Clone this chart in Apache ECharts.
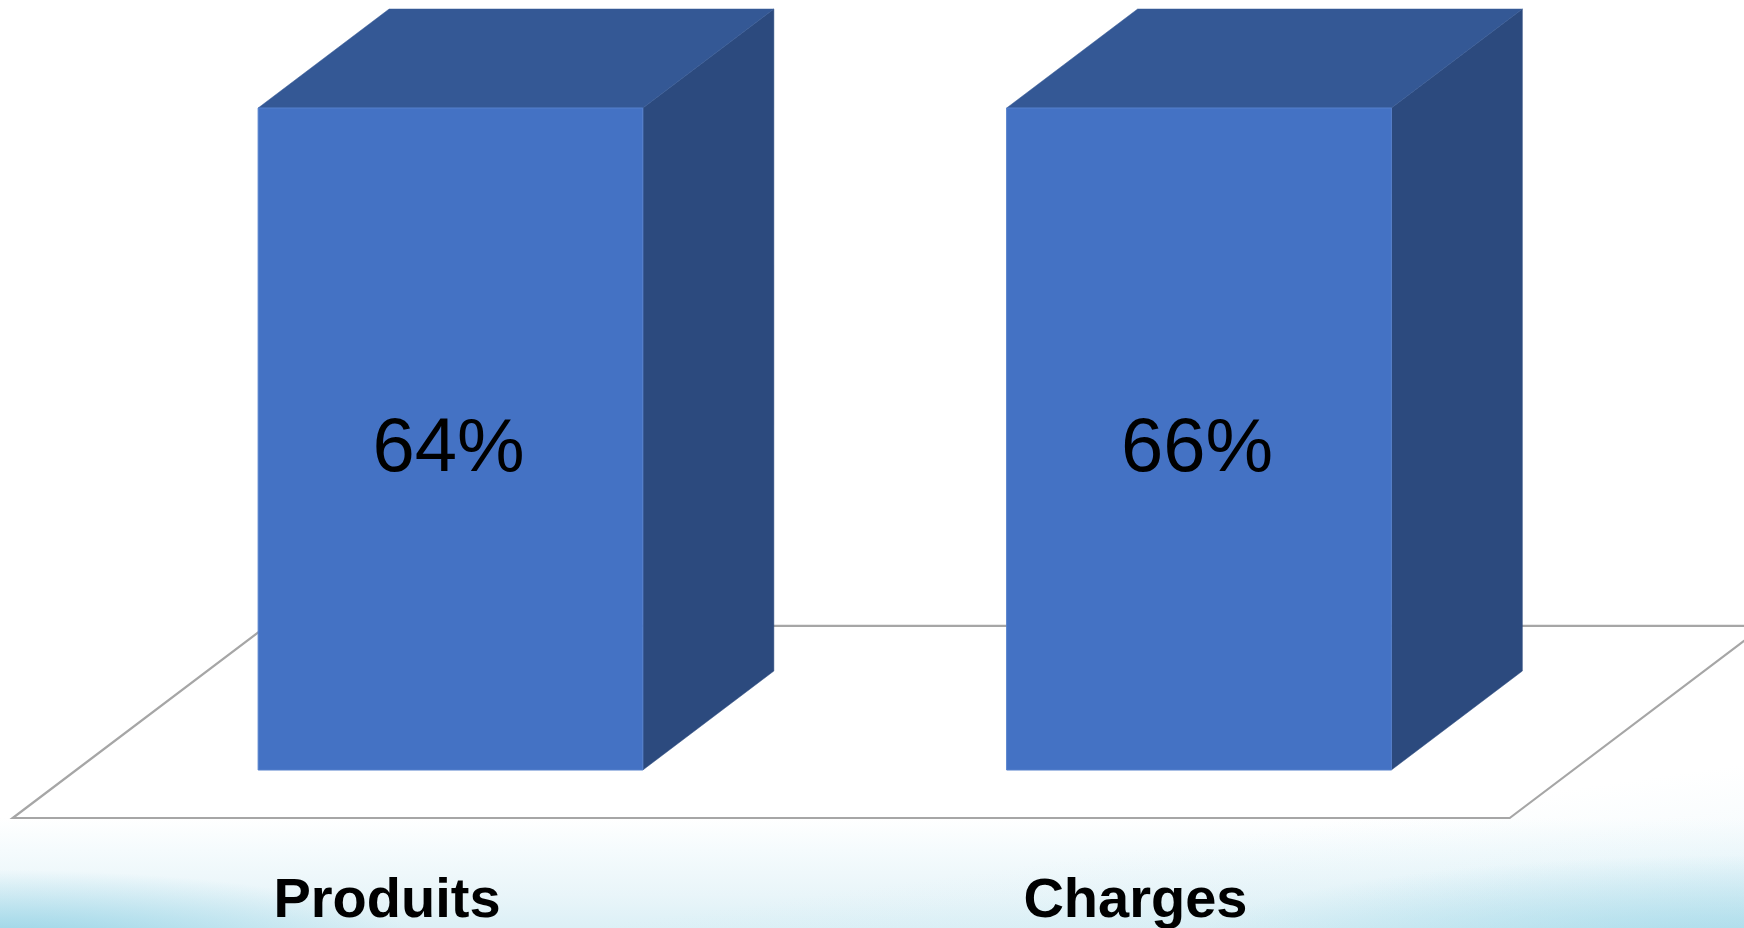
<!DOCTYPE html>
<html>
<head>
<meta charset="utf-8">
<script src="https://cdn.jsdelivr.net/npm/echarts@6/dist/echarts.min.js"></script>
<style>
  html, body { margin: 0; padding: 0; background: #ffffff; overflow: hidden; }
  #bg {
    position: absolute; left: 0; top: 0; width: 1744px; height: 928px;
    background:
      radial-gradient(ellipse 420px 75px at 0px 945px, rgba(135,205,226,0.85), rgba(135,205,226,0) 100%),
      radial-gradient(ellipse 560px 95px at 1744px 950px, rgba(150,212,230,0.75), rgba(150,212,230,0) 100%),
      linear-gradient(172deg, rgba(255,255,255,0) 0%, rgba(255,255,255,0) 86%, rgba(200,232,242,0.35) 100%),
      linear-gradient(to bottom, #ffffff 0px, #ffffff 818px, #f5fbfd 850px, #e9f5f9 895px, #dcf0f6 928px);
  }
  #chart { position: absolute; left: 0; top: 0; width: 1744px; height: 928px; }
</style>
</head>
<body>
<div id="bg"></div>
<div id="chart"></div>
<script>
// ---- data ----
const categories = ['Produits', 'Charges'];
const barValues = [100, 100];          // both bars are drawn at the same (full) height
const barLabels = ['64%', '66%'];

// ---- style constants ----
const DEPTH = [131, -99];               // 3D depth vector of a bar (px)
const FLOOR_FRONT = -0.485;             // floor front edge, in units of DEPTH
const FLOOR_BACK = 1.455;               // floor back edge, in units of DEPTH
const BAR_RATIO = 0.514;
const COLOR_FRONT = '#4472C4';
const COLOR_TOP = '#345895';
const COLOR_SIDE = '#2C4A7E';
const FLOOR_LINE = '#A6A6A6';

const chart = echarts.init(document.getElementById('chart'), null, { renderer: 'canvas' });

function renderFloor(params, api) {
  const cs = params.coordSys;
  const baseY = api.coord([0, 0])[1];
  const xL = cs.x, xR = cs.x + cs.width;
  const fx = DEPTH[0] * FLOOR_FRONT, fy = DEPTH[1] * FLOOR_FRONT;
  const bx = DEPTH[0] * FLOOR_BACK, by = DEPTH[1] * FLOOR_BACK;
  return {
    type: 'polygon',
    shape: { points: [
      [xL + fx, baseY + fy], [xR + fx, baseY + fy],
      [xR + bx, baseY + by], [xL + bx, baseY + by]
    ] },
    style: { fill: '#ffffff', stroke: FLOOR_LINE, lineWidth: 2.2 },
    silent: true
  };
}

function renderBar(params, api) {
  const idx = api.value(0);
  const v = api.value(1);
  const base = api.coord([idx, 0]);
  const top = api.coord([idx, v]);
  const bw = api.size([1, 0])[0] * BAR_RATIO;
  const x0 = base[0] - bw / 2, x1 = base[0] + bw / 2;
  const yT = top[1], yB = base[1];
  const dx = DEPTH[0], dy = DEPTH[1];
  const fx = DEPTH[0] * FLOOR_FRONT;
  return {
    type: 'group',
    children: [
      { type: 'polygon',
        shape: { points: [[x1, yT], [x1 + dx, yT + dy], [x1 + dx, yB + dy], [x1, yB]] },
        style: { fill: COLOR_SIDE, stroke: COLOR_SIDE, lineWidth: 0.5 } },
      { type: 'polygon',
        shape: { points: [[x0, yT], [x0 + dx, yT + dy], [x1 + dx, yT + dy], [x1, yT]] },
        style: { fill: COLOR_TOP, stroke: COLOR_TOP, lineWidth: 0.5 } },
      { type: 'rect',
        shape: { x: x0, y: yT, width: bw, height: yB - yT },
        style: { fill: COLOR_FRONT, stroke: '#5580CC', lineWidth: 1 } },
      { type: 'text',
        style: {
          x: (x0 + x1) / 2 - 2, y: (yT + yB) / 2 + 11,
          text: barLabels[idx],
          fill: '#000000',
          font: '76px "Liberation Sans Narrow", "Liberation Sans", sans-serif',
          align: 'center', verticalAlign: 'middle'
        } },
      { type: 'text',
        style: {
          x: base[0] + fx, y: 902,
          text: categories[idx],
          fill: '#000000',
          font: 'bold 56px "Liberation Sans Narrow", "Liberation Sans", sans-serif',
          align: 'center', verticalAlign: 'middle'
        } }
    ]
  };
}

chart.setOption({
  animation: false,
  backgroundColor: 'transparent',
  grid: { left: 76.25, right: 170.75, top: 108, bottom: 158, containLabel: false },
  xAxis: {
    type: 'category', data: categories, show: false, boundaryGap: true
  },
  yAxis: {
    type: 'value', min: 0, max: 100, show: false
  },
  series: [
    {
      type: 'custom',
      renderItem: renderFloor,
      data: [[0, 0]],
      z: 1,
      silent: true
    },
    {
      type: 'custom',
      renderItem: renderBar,
      data: barValues.map((v, i) => [i, v]),
      encode: { x: 0, y: 1 },
      z: 2
    }
  ]
});
</script>
</body>
</html>
